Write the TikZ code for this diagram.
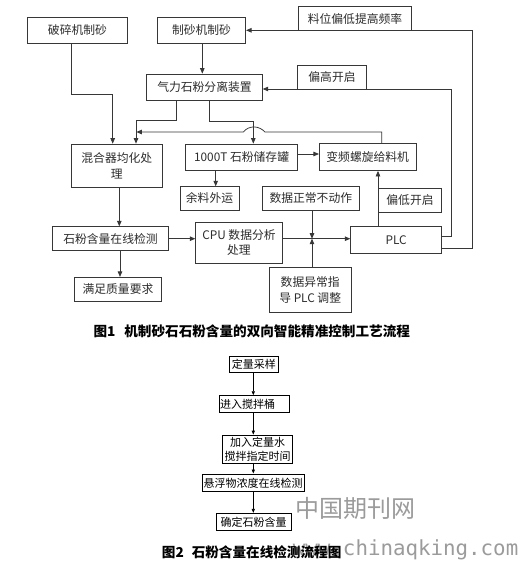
\documentclass[tikz,border=0pt]{standalone}
\usepackage{fontspec}
\setmainfont{Noto Sans CJK SC}
\newfontfamily\wmmono{DejaVu Sans Mono}
\usetikzlibrary{arrows.meta}
\definecolor{lc}{RGB}{55,55,55}
\definecolor{tc}{RGB}{45,45,45}
\definecolor{wm}{RGB}{155,155,155}
\tikzset{
  box/.style={draw=lc, line width=0.75pt, fill=white, inner sep=0pt, text=tc, align=center,
    font=\fontsize{11.8}{16}\selectfont},
  arr/.style={draw=lc, line width=0.75pt, -{Triangle[length=5.5pt,width=4.5pt]}},
  ln/.style={draw=lc, line width=0.75pt},
  sbox/.style={draw=black, line width=0.9pt, fill=white, inner sep=0pt, text=black, align=center,
    font=\fontsize{11}{14}\selectfont},
  sarr/.style={draw=black, line width=0.8pt, -{Triangle[length=4pt,width=3.2pt]}},
  captxt/.style={inner sep=0pt, anchor=west, text=black, font=\fontsize{13.6}{15}\selectfont\bfseries}
}
\begin{document}
\begin{tikzpicture}[x=1pt,y=-1pt]
\useasboundingbox (0,0) rectangle (521,566);
\fill[white] (0,0) rectangle (521,566);

% ---------- Figure 1 ----------
\node[box, minimum width=99.6pt, minimum height=26pt] (b1) at (77.5,30.3) {破碎机制砂};
\node[box, minimum width=88.4pt, minimum height=26pt] (b2) at (201.5,30.3) {制砂机制砂};
\node[box, minimum width=115.6pt, minimum height=26pt] (b3) at (204.5,87) {气力石粉分离装置};
\node[box, minimum width=90.3pt, minimum height=43.3pt, font=\fontsize{11.8}{16.7}\selectfont] (b4) at (116.8,165.7) {混合器均化处\\理};
\node[box, minimum width=112.2pt, minimum height=26pt] (b5) at (241.6,157) {1000T 石粉储存罐};
\node[box, minimum width=96.7pt, minimum height=27pt] (b6) at (367.7,157) {变频螺旋给料机};
\node[box, minimum width=59pt, minimum height=23.3pt] (b7) at (209.5,198.3) {余料外运};
\node[box, minimum width=97pt, minimum height=23.3pt] (b8) at (310.8,198.3) {数据正常不动作};
\node[box, minimum width=63.4pt, minimum height=24pt] (b9) at (410,200.3) {偏低开启};
\node[box, minimum width=91pt, minimum height=26.6pt] (b10) at (396.2,240) {PLC};
\node[box, minimum width=81.7pt, minimum height=45.4pt, font=\fontsize{11.8}{16.7}\selectfont] (b11) at (310.2,290) {数据异常指\\导 PLC 调整};
\node[box, minimum width=86.6pt, minimum height=41.3pt, font=\fontsize{11.8}{15.5}\selectfont] (b12) at (239,242.7) {CPU 数据分析\\处理};
\node[box, minimum width=115.6pt, minimum height=24pt] (b13) at (110.5,238.7) {石粉含量在线检测};
\node[box, minimum width=87.4pt, minimum height=24.4pt] (b14) at (118,289.5) {满足质量要求};
\node[box, minimum width=113.4pt, minimum height=24pt] (b15) at (355,18.7) {料位偏低提高频率};
\node[box, minimum width=69.4pt, minimum height=24pt] (b16) at (332,77.3) {偏高开启};

\coordinate (j) at (312,238.7);

\draw[arr] (71,0 |- b1.south) |- (112.7,94.3) -- (112.7,0 |- b4.north);
\draw[arr] (202.3,0 |- b2.south) -- (202.3,0 |- b3.north);
\draw[arr] (176.7,0 |- b3.south) |- (136,120.7) -- (136,0 |- b4.north);
\draw[arr] (209.3,0 |- b3.south) |- (253.3,121.7) -- (253.3,0 |- b5.north);
\draw[arr] (381.7,0 |- b6.north) |- (265,132) .. controls (259,125.5) and (249,125) .. (243.3,132) -- (136.4,132);
\draw[arr] (215.7,0 |- b5.south) -- (215.7,0 |- b7.north);
\draw[arr] (b5.east |- 0,154) -- (b6.west |- 0,154);
\draw[arr] (119.3,0 |- b4.south) -- (119.3,0 |- b13.north);
\draw[arr] (b13.east |- 0,238.7) -- (b12.west |- 0,238.7);
\draw[arr] (120,0 |- b13.south) -- (120,0 |- b14.north);
\draw[arr] (b12.east |- 0,238.7) -- (b10.west |- 0,238.7);
\draw[arr] (312,0 |- b8.south) -- (j);
\draw[arr] (312,0 |- b11.north) -- (j);
\draw[arr] (378,0 |- b10.north) -- (378,0 |- b6.south);
\draw[arr] (b10.east |- 0,236.5) -- (451.5,236.5) -- (451.5,89) -- (b3.east |- 0,89);
\draw[arr] (b10.east |- 0,248.3) -- (472.5,248.3) -- (472.5,30.3) -- (b2.east |- 0,30.3);
% redraw label boxes' borders on top
\node[box, minimum width=69.4pt, minimum height=24pt] at (b16) {偏高开启};
\node[box, minimum width=113.4pt, minimum height=24pt] at (b15) {料位偏低提高频率};
\node[box, minimum width=63.4pt, minimum height=24pt] at (b9) {偏低开启};

\node[captxt] (c1) at (93.3,331.7) {图1\hspace{9pt}机制砂石石粉含量的双向智能精准控制工艺流程};

% ---------- Figure 2 ----------
\node[sbox, minimum width=49pt, minimum height=16.3pt] (f1) at (253.8,364.2) {定量采样};
\node[sbox, text width=68pt, align=left, inner xsep=1pt, minimum height=16.6pt] (f2) at (254,404) {进入搅拌桶};
\node[sbox, minimum width=70.4pt, minimum height=28.3pt, font=\fontsize{11}{13.5}\selectfont] (f3) at (257.5,449.2) {加入定量水\\搅拌指定时间};
\node[sbox, minimum width=101.7pt, minimum height=17.7pt] (f4) at (253.2,482.8) {悬浮物浓度在线检测};
\node[sbox, minimum width=75pt, minimum height=17.4pt] (f5) at (253.5,522) {确定石粉含量};

\draw[sarr] (253.3,0 |- f1.south) -- (253.3,0 |- f2.north);
\draw[sarr] (253.3,0 |- f2.south) -- (253.3,0 |- f3.north);
\draw[sarr] (253.3,0 |- f3.south) -- (253.3,0 |- f4.north);
\draw[sarr] (253.3,0 |- f4.south) -- (253.3,0 |- f5.north);

% watermark
\node[inner sep=0pt, text=wm, font=\fontsize{24}{26}\selectfont] (wm1) at (355,508.5) {中国期刊网};
\node[inner sep=0pt, anchor=base west, text=wm, font=\wmmono\fontsize{20.8}{24}\selectfont] (wm2) at (292.7,555) {www.chinaqking.com};

\node[captxt] (c2) at (161.7,552.3) {图2\hspace{8pt}石粉含量在线检测流程图};
\end{tikzpicture}
\end{document}
